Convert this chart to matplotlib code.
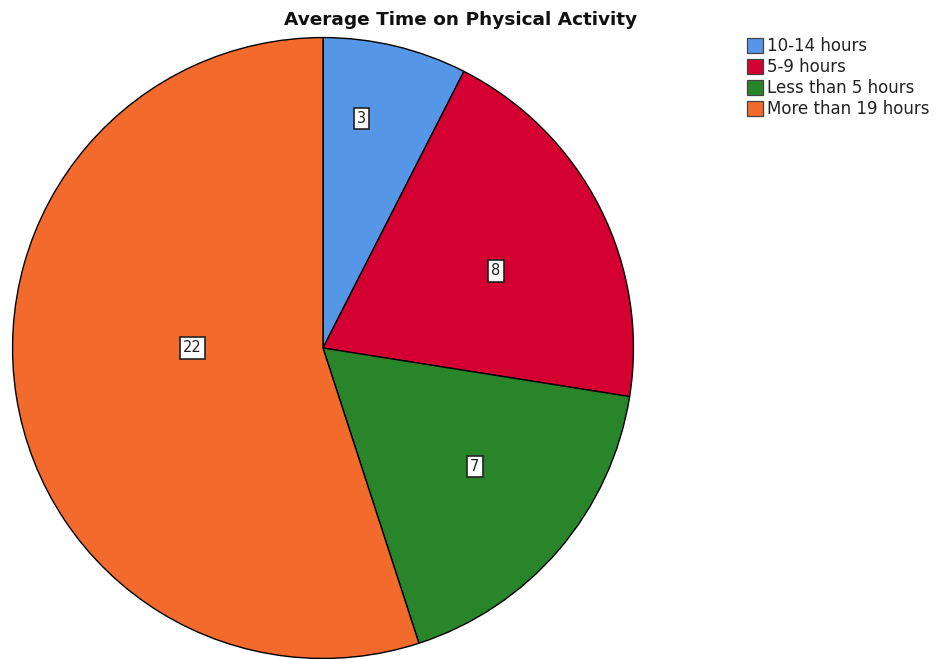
import numpy as np
import matplotlib.pyplot as plt
from matplotlib.patches import Patch

# Pie data
categories = ['10-14 hours', '5-9 hours', 'Less than 5 hours', 'More than 19 hours']
counts = [3, 8, 7, 22]
colors = ['#5596E6', '#D40032', '#29852A', '#F26A2C']

# label placement (radius fraction, angle shift in degrees)
label_dist = [0.75, 0.61, 0.62, 0.42]
label_shift = [4, -3, 2.5, -9]

fig = plt.figure(figsize=(9.37, 6.59), dpi=100)
ax = fig.add_axes([11/937, -1/659, 624/937, 624/659])

wedges, _ = ax.pie(counts, colors=colors, startangle=90, counterclock=False,
                   wedgeprops=dict(edgecolor='black', linewidth=1.0))
ax.set_xlim(-1.005, 1.005)
ax.set_ylim(-1.005, 1.005)
ax.set_aspect('equal')

# Count labels in white boxes
for w, n, d, s in zip(wedges, counts, label_dist, label_shift):
    mid = np.deg2rad((w.theta1 + w.theta2) / 2 + s)
    ax.text(d * np.cos(mid), d * np.sin(mid), str(n), ha='center', va='center',
            fontsize=10.5, color='#222222',
            bbox=dict(boxstyle='square,pad=0.22', fc='white', ec='#222222', lw=1.2))

fig.text(461/937, 1 - 20/659, 'Average Time on Physical Activity',
         ha='center', va='center', fontsize=13.3, fontweight='bold', color='#111111')

handles = [Patch(facecolor=c, edgecolor='#444444', linewidth=0.9) for c in colors]
fig.legend(handles, categories, loc='upper left', bbox_to_anchor=(747/937, 1 - 37/659),
           frameon=False, fontsize=12, handlelength=0.95, handleheight=1.0,
           handletextpad=0.25, labelspacing=0.18, borderaxespad=0, borderpad=0,
           labelcolor='#222222')

fig.savefig('out.png', dpi=100)
